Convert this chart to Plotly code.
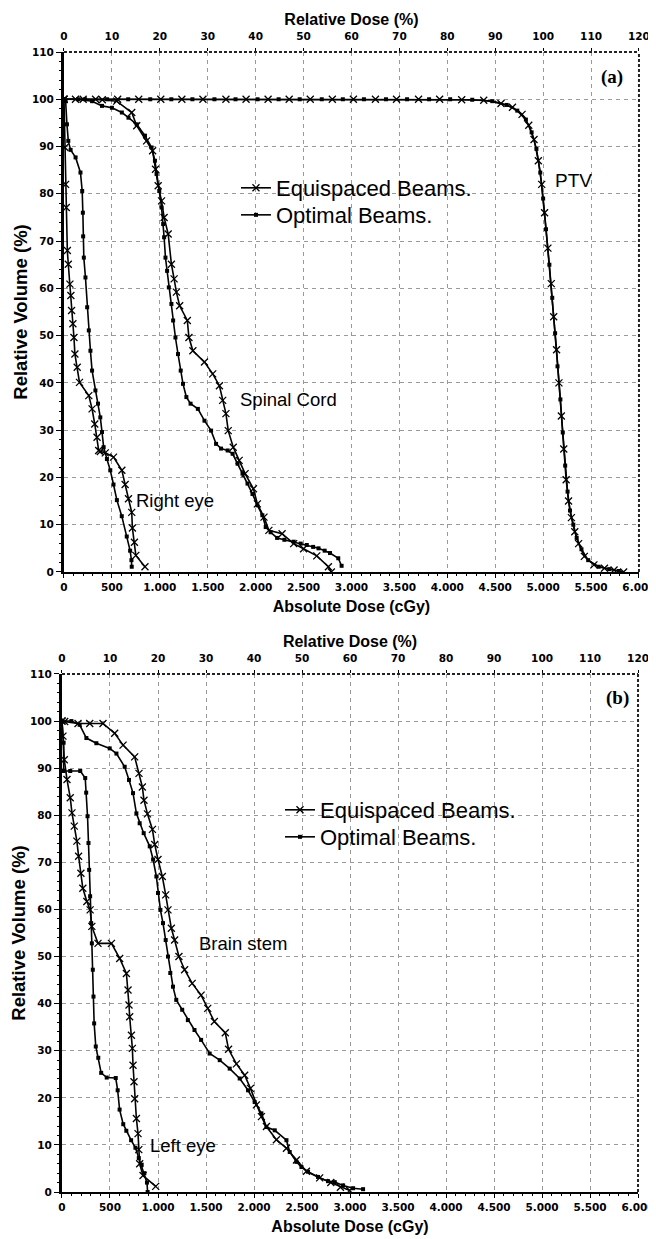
import plotly.graph_objects as go

# ---- Panel (a): PTV, spinal cord, right eye ----
ptv_eq_dose = [0, 120, 330, 560, 780, 1010, 1230, 1450, 1690, 1900, 2130, 2350, 2570, 2800, 3020, 3250,
               3470, 3700, 3920, 4150, 4380, 4560, 4680, 4780, 4850, 4905, 4950, 4985, 5015, 5050, 5085,
               5110, 5140, 5165, 5190, 5215, 5240, 5265, 5295, 5330, 5370, 5430, 5530, 5640, 5740, 5840]
ptv_eq_vol = [100, 100, 100, 100, 100, 100, 100, 100, 100, 100, 100, 100, 100, 100, 100, 100,
              100, 100, 100, 99.9, 99.8, 99.1, 98.3, 96.8, 94.5, 91.5, 87, 82, 76, 68.5, 61,
              54, 47, 40, 33, 26, 19.5, 15, 11.5, 8.5, 6, 3.3, 1.5, 0.8, 0.4, 0]
ptv_opt_dose = [0, 220, 450, 670, 900, 1120, 1340, 1570, 1790, 2020, 2240, 2460, 2690, 2910, 3130, 3360,
                3580, 3810, 4030, 4260, 4470, 4620, 4730, 4820, 4880, 4930, 4970, 5000, 5030, 5065,
                5095, 5125, 5150, 5180, 5205, 5230, 5255, 5280, 5315, 5350, 5400, 5470, 5580, 5690, 5790]
ptv_opt_vol = [100, 100, 100, 100, 100, 100, 100, 100, 100, 100, 100, 100, 100, 100, 100, 100,
               100, 100, 100, 99.9, 99.6, 98.8, 97.6, 95.7, 93, 89.5, 84.5, 79, 72.5, 65,
               58, 50.5, 43.5, 36.5, 29.5, 22.5, 17, 13, 10, 7.2, 4.8, 2.5, 1.1, 0.6, 0.2]

cord_eq_dose = [0, 200, 400, 550, 707, 759, 862, 925, 955, 983, 1018, 1045, 1087, 1121, 1149, 1173, 1207,
                1287, 1304, 1345, 1466, 1552, 1622, 1656, 1690, 1714, 1766, 1828, 1890, 1977, 2018, 2087,
                2138, 2276, 2397, 2500, 2638, 2759, 2790]
cord_eq_vol = [100, 100, 99.9, 99.6, 97.2, 94.4, 91.2, 89.1, 85.2, 81.7, 78.5, 75, 71.5, 65.1, 62, 59.2, 56.3,
               53.2, 49.6, 46.8, 44.4, 41.9, 39.4, 36.3, 33.5, 29.9, 26.4, 23.6, 20.8, 17.6, 14.4, 11.6,
               8.8, 8.1, 6.0, 4.9, 3.4, 1.1, 0]
cord_opt_dose = [0, 150, 293, 397, 500, 604, 673, 759, 845, 914, 949, 966, 994, 1018, 1035, 1045, 1059, 1076,
                 1094, 1121, 1139, 1163, 1190, 1218, 1242, 1277, 1321, 1397, 1466, 1535, 1587, 1639, 1708,
                 1760, 1811, 1863, 1915, 1967, 2018, 2070, 2105, 2156, 2224, 2300, 2397, 2470, 2534, 2600,
                 2656, 2720, 2776, 2862, 2897]
cord_opt_vol = [100, 100, 99.6, 98.6, 98.2, 97.2, 96.1, 94.7, 92.3, 89.8, 87.0, 84.2, 80.6, 77.1, 73.6, 70.8,
                66.5, 63.7, 60.2, 56.7, 53.2, 49.6, 46.1, 42.6, 39.8, 37.0, 35.6, 34.5, 32.0, 29.9, 27.1, 26.1,
                25.7, 25.0, 22.9, 20.8, 18.7, 16.5, 14.1, 12.0, 9.5, 8.4, 7.2, 6.8, 6.4, 6.0, 5.7, 5.3, 5.0,
                4.5, 4.0, 2.9, 1.3]

reye_eq_dose = [0, 10, 17, 24, 35, 45, 62, 72, 79, 93, 104, 114, 138, 162, 259, 293, 321, 345, 362, 379,
                431, 517, 604, 638, 673, 707, 714, 735, 750, 845]
reye_eq_vol = [100, 89.8, 82, 77.1, 68, 65.1, 60.9, 58.5, 55.3, 52.5, 49.6, 46.1, 43.3, 40.1, 37.3, 34.5,
               31.3, 28.5, 25.7, 25.5, 25.2, 24.3, 21.5, 18.5, 15.5, 12.6, 9.3, 6.3, 3.5, 1.1]
reye_opt_dose = [0, 17, 31, 45, 69, 121, 172, 190, 197, 200, 207, 224, 242, 259, 276, 293, 328, 355, 379,
                 397, 414, 448, 483, 517, 552, 603, 655, 690, 704, 707]
reye_opt_vol = [100, 99.6, 94.7, 91.2, 89.3, 87.7, 84.5, 80.6, 76, 71, 66.5, 62.3, 56.0, 51.1, 46.8, 42.6,
                38.4, 35.6, 32.7, 29.6, 26.4, 23.9, 21.5, 18.5, 15.2, 11.8, 7.5, 4.5, 2.5, 1.1]

# ---- Panel (b): brain stem, left eye ----
stem_eq_dose = [0, 28, 167, 289, 427, 549, 636, 757, 802, 837, 854, 890, 942, 966, 1000, 1045, 1080, 1104,
                1139, 1173, 1218, 1277, 1356, 1449, 1518, 1587, 1701, 1735, 1817, 1903, 1963, 2025, 2077,
                2129, 2233, 2338, 2442, 2546, 2684, 2800, 2900, 2997]
stem_eq_vol = [100, 99.9, 99.5, 99.5, 99.5, 97.4, 94.9, 92.4, 88.9, 86.0, 83.2, 80.3, 77.0, 73.8, 70.6, 67.0,
               63.1, 59.9, 56.0, 53.5, 50.0, 47.2, 44.3, 41.8, 39.0, 36.2, 33.8, 30.3, 27.2, 24.8, 22.0, 18.5,
               16.0, 13.9, 11.1, 9.3, 6.8, 4.4, 3.0, 2.0, 1.0, 0.3]
stem_opt_dose = [0, 98, 184, 254, 358, 497, 567, 653, 698, 740, 775, 809, 851, 914, 949, 983, 1000, 1025,
                 1052, 1080, 1104, 1128, 1156, 1190, 1252, 1311, 1380, 1449, 1538, 1643, 1747, 1851, 1938,
                 2007, 2077, 2129, 2216, 2338, 2372, 2442, 2494, 2563, 2667, 2771, 2841, 2928, 3032, 3136]
stem_opt_vol = [100, 100, 99.2, 96.4, 95.3, 94.2, 93.1, 90.3, 87.5, 84.7, 80.4, 78.3, 76.2, 73.4, 70.6, 67.0,
                63.5, 59.9, 57.1, 53.5, 50.0, 46.5, 43.6, 40.8, 38.7, 36.5, 34.4, 32.3, 29.4, 28.0, 26.2,
                24.1, 21.6, 19.1, 16.7, 13.8, 13.1, 11.0, 8.5, 6.4, 5.3, 4.3, 3.2, 2.3, 2.1, 1.4, 0.8, 0.6]

leye_eq_dose = [0, 10, 24, 52, 86, 104, 128, 155, 173, 197, 217, 259, 293, 311, 375, 515, 601, 671, 688,
                698, 705, 723, 733, 740, 750, 757, 775, 792, 800, 809, 844, 976]
leye_eq_vol = [100, 96.8, 91.8, 87.6, 83.7, 80.5, 77.7, 74.5, 71.3, 67.7, 64.5, 61.7, 59.9, 56.4, 52.8,
               52.8, 49.6, 46.4, 42.9, 39.7, 37.2, 33.3, 30.5, 26.9, 23.4, 19.8, 15.6, 12.4, 9.0, 6.0, 3.5, 1.2]
leye_opt_dose = [0, 17, 17, 86, 190, 242, 252, 266, 276, 283, 293, 304, 311, 321, 328, 335, 352, 378, 408,
                 466, 560, 580, 600, 638, 670, 720, 765, 800, 830, 858, 885, 892]
leye_opt_vol = [100, 95.4, 89.4, 89.4, 89.4, 87.9, 84.8, 79.8, 74.1, 68.4, 62.8, 57.1, 52.8, 47.2, 41.5,
                35.8, 30.9, 28.5, 25.3, 24.3, 24.2, 21.6, 17.5, 14.4, 13.0, 11.0, 9.4, 7.2, 5.8, 4.0, 2.0, 0]

# axis ticks
dose_ticks = [0, 500, 1000, 1500, 2000, 2500, 3000, 3500, 4000, 4500, 5000, 5500, 6000]
dose_labels = ['0', '500', '1.000', '1.500', '2.000', '2.500', '3.000', '3.500', '4.000', '4.500',
               '5.000', '5.500', '6.000']
rel_ticks = [0, 10, 20, 30, 40, 50, 60, 70, 80, 90, 100, 110, 120]
vol_ticks = [0, 10, 20, 30, 40, 50, 60, 70, 80, 90, 100, 110]

EQ_NAME = 'Equispaced Beams.'
OPT_NAME = 'Optimal Beams.'

fig = go.Figure()


def add_curve(dose, vol, eq, xa, ya, legend, show):
    if eq:
        marker = dict(symbol='x-thin', size=7, color='black', line=dict(width=1.3, color='black'))
    else:
        marker = dict(symbol='square', size=4, color='black')
    fig.add_trace(go.Scatter(
        x=dose, y=vol, mode='lines+markers', xaxis=xa, yaxis=ya,
        name=EQ_NAME if eq else OPT_NAME, legend=legend, showlegend=show,
        line=dict(color='black', width=1.6), marker=marker, hoverinfo='skip'))


# panel (a)
add_curve(ptv_eq_dose, ptv_eq_vol, True, 'x', 'y', 'legend', True)
add_curve(ptv_opt_dose, ptv_opt_vol, False, 'x', 'y', 'legend2', True)
add_curve(cord_eq_dose, cord_eq_vol, True, 'x', 'y', 'legend', False)
add_curve(cord_opt_dose, cord_opt_vol, False, 'x', 'y', 'legend', False)
add_curve(reye_eq_dose, reye_eq_vol, True, 'x', 'y', 'legend', False)
add_curve(reye_opt_dose, reye_opt_vol, False, 'x', 'y', 'legend', False)
# panel (b)
add_curve(stem_eq_dose, stem_eq_vol, True, 'x3', 'y2', 'legend3', True)
add_curve(stem_opt_dose, stem_opt_vol, False, 'x3', 'y2', 'legend4', True)
add_curve(leye_eq_dose, leye_eq_vol, True, 'x3', 'y2', 'legend3', False)
add_curve(leye_opt_dose, leye_opt_vol, False, 'x3', 'y2', 'legend3', False)

# invisible carriers so the top "Relative Dose (%)" axes get drawn
for xa, ya in [('x2', 'y'), ('x4', 'y2')]:
    fig.add_trace(go.Scatter(x=[rel_ticks[0], rel_ticks[-1]], y=[vol_ticks[0], vol_ticks[0]], xaxis=xa,
                             yaxis=ya, mode='markers', marker=dict(opacity=0), showlegend=False,
                             hoverinfo='skip'))

tick_font = dict(family='DejaVu Sans', size=10.5, color='black', weight='bold')
xtitle_font = dict(family='Liberation Sans', size=16, color='black', weight='bold')
ytitle_font = dict(family='Liberation Sans', size=18.5, color='black', weight='bold')
grid = dict(showgrid=True, gridcolor='#9a9a9a', griddash='4px,4px', gridwidth=1.2, zeroline=False)


def bottom_axis(domain, anchor):
    return dict(domain=domain, anchor=anchor, range=[0, 6000], tickvals=dose_ticks, ticktext=dose_labels,
                ticks='outside', ticklen=4, tickcolor='black', tickfont=tick_font,
                minor=dict(dtick=100, ticks='outside', ticklen=2, tickcolor='black', showgrid=False),
                showline=True, linewidth=2, linecolor='black', automargin=False,
                title=dict(text='Absolute Dose (cGy)', font=xtitle_font, standoff=9), **grid)


def top_axis(overlay, anchor):
    return dict(overlaying=overlay, anchor=anchor, side='top', range=[0, 120], tickvals=rel_ticks,
                ticks='outside', ticklen=3, tickcolor='black', tickfont=tick_font, ticklabelstandoff=4,
                showgrid=False, zeroline=False, showline=False, automargin=False,
                title=dict(text='Relative Dose (%)', font=xtitle_font, standoff=0))


def left_axis(domain, anchor):
    return dict(domain=domain, anchor=anchor, range=[0, 110], tickvals=vol_ticks,
                ticks='outside', ticklen=5, tickcolor='black', tickfont=tick_font,
                minor=dict(dtick=2, ticks='outside', ticklen=2, tickcolor='black', showgrid=False),
                showline=True, linewidth=3, linecolor='black', automargin=False,
                title=dict(text='Relative Volume (%)', font=ytitle_font, standoff=0), **grid)


dom_xa = [0.0068, 0.9880]
dom_xb = [0.0034, 0.9864]
dom_ya = [0.5439, 1.0]
dom_yb = [0.0, 0.4544]

label_font = dict(family='Liberation Sans', size=18.5, color='black')
panel_font = dict(family='Liberation Serif', size=19, color='black', weight='bold')
legend_font = dict(family='Liberation Sans', size=22, color='black')

annotations = [
    dict(text='PTV', x=5317, y=82.9, xref='x', yref='y', font=dict(family='Liberation Sans', size=19)),
    dict(text='Spinal Cord', x=2348, y=36.4, xref='x', yref='y', font=label_font),
    dict(text='Right eye', x=1159, y=15.2, xref='x', yref='y', font=label_font),
    dict(text='(a)', x=5721, y=104.7, xref='x', yref='y', font=panel_font),
    dict(text='Brain stem', x=1882, y=52.8, xref='x3', yref='y2', font=label_font),
    dict(text='Left eye', x=1257, y=9.9, xref='x3', yref='y2', font=label_font),
    dict(text='(b)', x=5789, y=104.9, xref='x3', yref='y2', font=panel_font),
]
for a in annotations:
    a['showarrow'] = False
    a['font'].setdefault('color', 'black')

# dashed top and right frame lines
shapes = []
for xr, yr in [('x', 'y'), ('x3', 'y2')]:
    shapes.append(dict(type='line', xref=xr + ' domain', yref=yr + ' domain', x0=0, x1=1, y0=1, y1=1,
                       line=dict(color='#222222', width=2, dash='3px,2px')))
    shapes.append(dict(type='line', xref=xr + ' domain', yref=yr + ' domain', x0=1, x1=1, y0=0, y1=1,
                       line=dict(color='#222222', width=2, dash='3px,2px')))

leg = dict(xanchor='left', yanchor='top', font=legend_font, bgcolor='rgba(0,0,0,0)', itemwidth=30)

# page has an 8px body margin, so the figure is 8px smaller than the window on each side
fig.update_layout(
    width=648, height=1231,
    margin=dict(l=52, r=10, t=44, b=47),
    paper_bgcolor='white', plot_bgcolor='white',
    xaxis=bottom_axis(dom_xa, 'y'),
    xaxis2=top_axis('x', 'y'),
    xaxis3=bottom_axis(dom_xb, 'y2'),
    xaxis4=top_axis('x3', 'y2'),
    yaxis=left_axis(dom_ya, 'x'),
    yaxis2=left_axis(dom_yb, 'x3'),
    legend=dict(x=0.3003, y=0.8991, **leg),
    legend2=dict(x=0.3003, y=0.8754, **leg),
    legend3=dict(x=0.3754, y=0.3535, **leg),
    legend4=dict(x=0.3754, y=0.3298, **leg),
    annotations=annotations,
    shapes=shapes,
    showlegend=True,
)

fig.write_html('out.html')
